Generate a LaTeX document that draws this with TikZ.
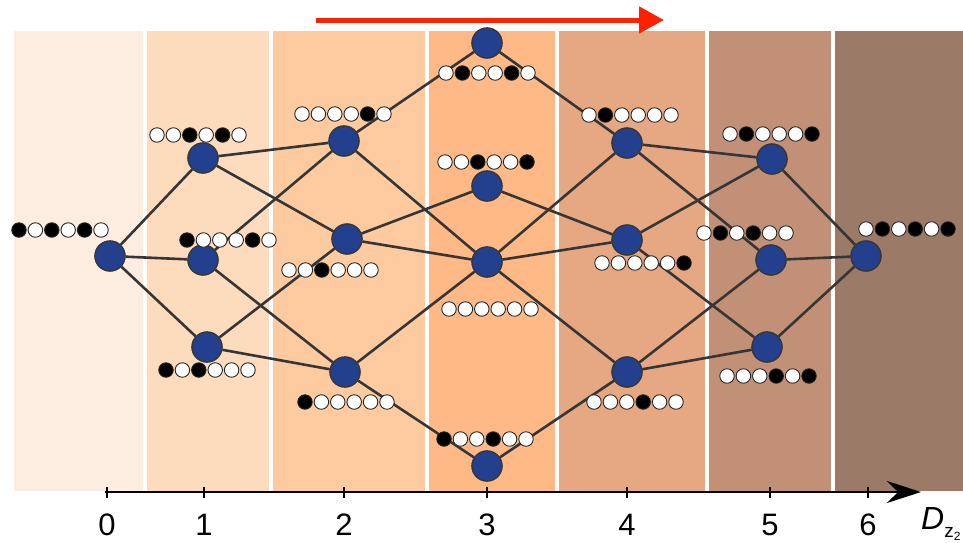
\documentclass[tikz,border=0pt]{standalone}
\usepackage{fontspec}
\setmainfont{Liberation Sans}
\usetikzlibrary{arrows.meta,calc}
\definecolor{b0}{HTML}{FDEDE1}
\definecolor{b1}{HTML}{FDDCBE}
\definecolor{b2}{HTML}{FECBA1}
\definecolor{b3}{HTML}{FEB987}
\definecolor{b4}{HTML}{E6A882}
\definecolor{b5}{HTML}{C29076}
\definecolor{b6}{HTML}{9C7A68}
\definecolor{nodeblue}{HTML}{22408E}
\definecolor{edgegray}{HTML}{363636}
\definecolor{redarrow}{HTML}{FF2200}
\colorlet{B}{black}
\colorlet{W}{white}
\tikzset{
  band/.style={fill=#1, draw=none},
  state/.style={circle, fill=nodeblue, draw=edgegray, line width=1.2pt, minimum size=30pt, inner sep=0pt},
  bead/.style={circle, draw=black!85, line width=0.9pt, minimum size=14.5pt, inner sep=0pt},
  link/.style={draw=edgegray, line width=2.6pt},
  ticklabel/.style={font=\fontsize{31}{36}\selectfont, inner sep=0pt},
}
\newcommand\beadrow[2]{%
  \foreach \c [count=\i] in {#2} {\node[bead, fill=\c] at ([xshift={(\i-3.5)*16.4pt}]#1) {};}%
}
\begin{document}
\begin{tikzpicture}[x=1pt,y=-1pt]
\useasboundingbox (0,0) rectangle (963,542);
% background bands
\fill[band=b0] (14,31) rectangle (143,491);
\fill[band=b1] (147,31) rectangle (269,491);
\fill[band=b2] (273,31) rectangle (425,491);
\fill[band=b3] (429,31) rectangle (555,491);
\fill[band=b4] (559,31) rectangle (705,491);
\fill[band=b5] (709,31) rectangle (831,491);
\fill[band=b6] (835,31) rectangle (963,491);
% red arrow
\coordinate (ra0) at (316,20);
\coordinate (ra1) at (664,20);
\draw[redarrow, line width=5pt, -{Triangle[length=25pt,width=26pt]}] (ra0) -- (ra1);
% state nodes
\node[state] (n0) at (110,256) {};
\node[state] (n1a) at (203,158) {};
\node[state] (n1b) at (203,260) {};
\node[state] (n1c) at (207,347) {};
\node[state] (n2a) at (344,141) {};
\node[state] (n2b) at (347,239) {};
\node[state] (n2c) at (345,372) {};
\node[state] (n3a) at (487,43) {};
\node[state] (n3b) at (487,186) {};
\node[state] (n3c) at (487,262) {};
\node[state] (n3d) at (487,466) {};
\node[state] (n4a) at (627,143) {};
\node[state] (n4b) at (627,240) {};
\node[state] (n4c) at (627,372) {};
\node[state] (n5a) at (772,159) {};
\node[state] (n5b) at (771,260) {};
\node[state] (n5c) at (767,347) {};
\node[state] (n6) at (866,256) {};
% edges
\foreach \a/\b in {n0/n1a,n0/n1b,n0/n1c,
  n1a/n2a,n1a/n2b,n1b/n2a,n1b/n2c,n1c/n2b,n1c/n2c,
  n2a/n3a,n2a/n3c,n2b/n3b,n2b/n3c,n2c/n3c,n2c/n3d,
  n3a/n4a,n3c/n4a,n3b/n4b,n3c/n4b,n3c/n4c,n3d/n4c,
  n4a/n5a,n4a/n5b,n4b/n5a,n4b/n5c,n4c/n5b,n4c/n5c,
  n5a/n6,n5b/n6,n5c/n6}
  \draw[link] (\a) -- (\b);
% redraw nodes on top of edges
\foreach \n in {n0,n1a,n1b,n1c,n2a,n2b,n2c,n3a,n3b,n3c,n3d,n4a,n4b,n4c,n5a,n5b,n5c,n6}
  \node[state] at (\n) {};
% bead rows
\coordinate (r0) at (60,230);
\coordinate (r1a) at (198,135);
\coordinate (r1b) at (228,240);
\coordinate (r1c) at (207,370);
\coordinate (r2a) at (343,114);
\coordinate (r2b) at (330,270);
\coordinate (r2c) at (346,402);
\coordinate (r3a) at (487,73);
\coordinate (r3b) at (486,162);
\coordinate (r3c) at (490,309);
\coordinate (r3d) at (485,439);
\coordinate (r4a) at (630,115);
\coordinate (r4b) at (643,263);
\coordinate (r4c) at (635,402);
\coordinate (r5a) at (771,134);
\coordinate (r5b) at (745,233);
\coordinate (r5c) at (768,376);
\coordinate (r6) at (907,229);
\beadrow{r0}{B,W,B,W,B,W}
\beadrow{r1a}{W,W,B,W,B,W}
\beadrow{r1b}{B,W,W,W,B,W}
\beadrow{r1c}{B,W,B,W,W,W}
\beadrow{r2a}{W,W,W,W,B,W}
\beadrow{r2b}{W,W,B,W,W,W}
\beadrow{r2c}{B,W,W,W,W,W}
\beadrow{r3a}{W,B,W,W,B,W}
\beadrow{r3b}{W,W,B,W,W,B}
\beadrow{r3c}{W,W,W,W,W,W}
\beadrow{r3d}{B,W,W,B,W,W}
\beadrow{r4a}{W,B,W,W,W,W}
\beadrow{r4b}{W,W,W,W,W,B}
\beadrow{r4c}{W,W,W,B,W,W}
\beadrow{r5a}{W,B,W,W,W,B}
\beadrow{r5b}{W,B,W,B,W,W}
\beadrow{r5c}{W,W,W,B,W,B}
\beadrow{r6}{W,B,W,B,W,B}
% axis
\coordinate (ax0) at (105,492);
\coordinate (ax1) at (921,492);
\draw[black, line width=2pt, -{Stealth[length=34pt,width=22pt,inset=11pt]}] (ax0) -- (ax1);
\foreach \x/\l [count=\k] in {107/0,204/1,344/2,487/3,627/4,770/5,868/6} {
  \draw[black, line width=1.6pt] (\x,487) -- (\x,498);
  \node[ticklabel] (t\k) at (\x,525) {\l};
}
\node[anchor=base west, inner sep=0pt] (dlab) at (921,529)
  {\fontsize{32}{36}\selectfont\itshape D\raisebox{-8pt}{\fontsize{19}{19}\selectfont\upshape z\raisebox{-3pt}{\fontsize{12}{12}\selectfont 2}}};
\end{tikzpicture}
\end{document}
